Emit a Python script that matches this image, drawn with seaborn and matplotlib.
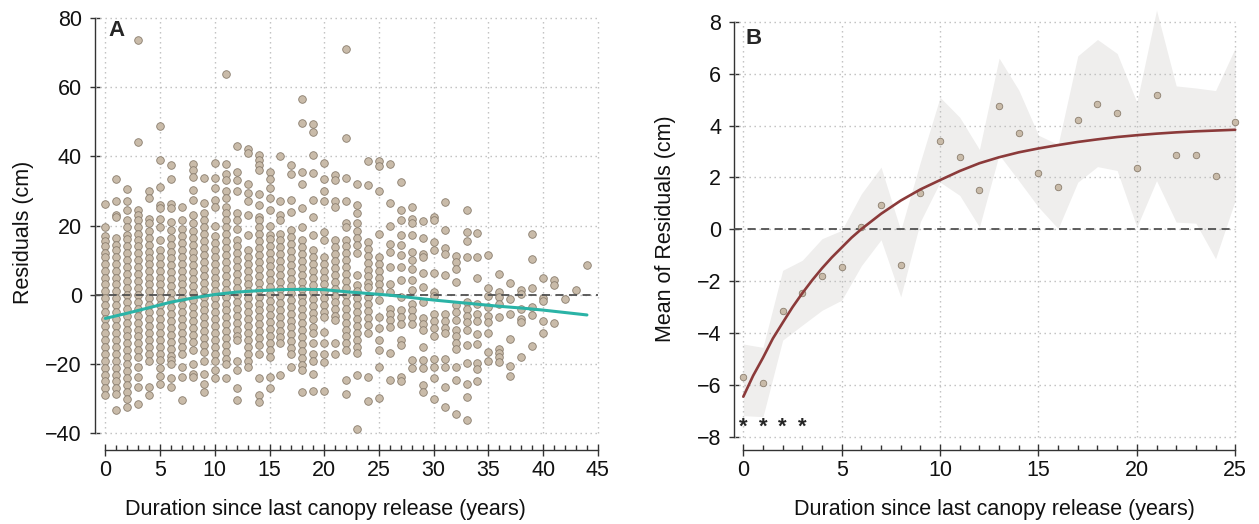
import matplotlib
matplotlib.use("Agg")
import matplotlib.pyplot as plt
import seaborn as sns
import numpy as np
import pandas as pd

# ---- Panel A: residuals (cm) by years since last canopy release ----
r00 = [26.3, 19.5, 17, 15.5, 14, 12, 11, 9, 7, 5, 3, 1, -1, -3, -5, -7, -9, -11, -13, -15, -17, -19, -21, -23, -25, -27, -29]
r01 = [33.3, 27, 23, 22.5, 16.3, 14.5, 12.9, 11, 9, 7, 5, 3, 1, -1, -3, -5, -7, -9, -11, -13, -15, -17, -19, -21, -23, -25, -27, -28.5, -33.3]
r02 = [30.5, 27, 24.6, 21.5, 19.6, 17.2, 16, 14, 12, 10, 8, 6, 4, 2, 0, -2, -4, -6, -8, -10, -12, -14, -16, -18, -20, -22, -24, -26, -28, -30, -32.5]
r03 = [73.5, 44.2, 24.4, 23, 21.5, 19.5, 17.5, 15.8, 14, 12, 10, 8, 6, 4, 2, 0, -2, -4, -6, -8, -10, -12, -14, -16, -18, -20.8, -23.7, -26.5, -31.5]
r04 = [30, 28, 22, 20.6, 18.5, 16.5, 14.5, 12.5, 10.5, 9, 7, 5, 3, 1, -1, -3, -5, -7, -9, -11, -13, -15, -17, -19, -26.5, -29]
r05 = [48.7, 38.8, 31.2, 26, 25, 22, 19.6, 15.8, 12.9, 11, 9, 7, 5, 3, 1, -1, -3, -5, -7, -9, -11, -13, -15, -17, -18.8, -21, -23.5, -25.6]
r06 = [37.4, 33.3, 26.3, 25.2, 21, 18.6, 16.5, 14.5, 12.5, 10.5, 8.5, 6.5, 4.5, 2.5, 0.5, -1.5, -3.5, -5.5, -7.5, -9.5, -11.5, -13.5, -15.5, -17.5, -18.8, -20, -24, -26.5]
r07 = [25.4, 21.5, 19, 17, 15, 13, 11, 9, 7, 5, 3, 1, -1, -3, -5, -7, -9, -11, -13, -15, -17, -20.8, -23.7, -30.4]
r08 = [37.9, 36, 34, 30.2, 27.3, 23, 20.6, 18.5, 16.5, 14.5, 12.5, 10.5, 8.5, 6.5, 4.5, 2.5, 0.5, -1.5, -3.5, -5.5, -7.5, -9.5, -11.5, -13.5, -16, -20, -22.7, -23.7]
r09 = [33.6, 26.5, 23.5, 21.5, 19.5, 17.5, 15.5, 13.5, 11.5, 9.5, 7.5, 5.5, 3.5, 1.5, -0.5, -2.5, -4.5, -6.5, -8.5, -10.5, -12.5, -14.5, -16.5, -19, -22.7, -25.6, -28]
r10 = [38, 33.6, 30.7, 27.5, 25.4, 19.8, 17, 15, 13, 11, 9, 7, 5, 3, 1, -1, -3, -5, -7, -9, -11, -13, -15, -17, -19, -21.7, -24]
r11 = [63.6, 37.9, 35, 33, 30, 28, 25.4, 23.5, 21.5, 19.5, 17.5, 15.5, 13.5, 11.5, 9.5, 7.5, 5.5, 3.5, 1.5, -0.5, -2.5, -4.5, -6.5, -8.5, -10.5, -12.5, -14.5, -16.5, -18.5, -20, -24]
r12 = [42.9, 35.5, 33, 30, 23.5, 21.5, 19, 15.8, 14, 12, 10, 8, 6, 4, 2, 0, -2, -4, -6, -8, -10, -12, -13, -19, -21.7, -27, -30.4]
r13 = [42.2, 40.8, 32, 29.5, 27, 23, 17.2, 12.9, 11, 9, 7, 5, 3, 1, -1, -3, -5, -7, -9, -11, -13, -15, -17, -19, -20.8]
r14 = [40.4, 38.8, 37.5, 36, 29, 26, 22.5, 21.5, 19.5, 17.5, 15.5, 13.5, 11.5, 9.5, 7.5, 5.5, 3.5, 1.5, -0.5, -2.5, -4.5, -6.5, -8.5, -10.5, -12.5, -14.5, -17, -24, -29, -31]
r15 = [35.5, 33.5, 30.7, 28, 24.4, 20, 17.2, 16.2, 14.2, 12.2, 10.2, 8.2, 6.2, 4.2, 2.2, 0.2, -1.8, -3.8, -5.8, -7.8, -9.8, -11.8, -13.8, -16, -18, -23.7, -27]
r16 = [40, 27, 23, 21.5, 17.7, 15.7, 13.7, 11.7, 9.7, 7.7, 5.7, 3.7, 1.7, -0.3, -2.3, -4.3, -6.3, -8.3, -10.3, -12.3, -14, -23]
r17 = [37.6, 35, 27.3, 24, 18.6, 16.6, 14.6, 12.6, 10.6, 8.6, 6.6, 4.6, 2.6, 0.6, -1.4, -3.4, -5.4, -7.4, -9.4, -11.4, -13.4, -15.4, -17, -20.8]
r18 = [56.4, 49.6, 35.5, 32, 25.2, 19.6, 15.8, 13.8, 11.8, 9.8, 7.8, 5.8, 3.8, 1.8, -0.2, -2.2, -4.2, -6.2, -8.2, -10.2, -12.2, -14.2, -16.2, -18.2, -20.2, -21.7, -28]
r19 = [49.3, 47.1, 40.4, 35.3, 27.3, 22.5, 17.2, 12.9, 10.9, 8.9, 6.9, 4.9, 2.9, 0.9, -1.1, -3.1, -5.1, -7.1, -9.2, -11, -14, -17, -19, -22.7, -27.7]
r20 = [38, 33.4, 30, 27, 18, 15.8, 11, 9, 7, 5, 3, 1, -1, -3, -5, -6.3, -10.7, -14, -17, -19.3, -27.7]
r21 = [34.5, 33, 27, 25.4, 15.8, 13.8, 11.8, 9.8, 7.8, 5.8, 3.8, 1.8, -0.2, -2.2, -4.2, -6.2, -7.3, -14, -17]
r22 = [71, 45.4, 33.6, 27, 20.6, 19.6, 15.8, 14, 12, 10, 8, 6, 4, 2, 0, -2, -4, -6, -8, -10, -12, -14, -16, -24.6, -28.5]
r23 = [32, 25.9, 23.5, 20.6, 18.5, 16.5, 14.5, 12, 5.7, 2.8, 1, -1, -3, -5, -7, -9, -11, -13, -15, -16.9, -23.2, -38.6]
r24 = [38.7, 31.7, 15.3, 13.3, 11.3, 9.3, 7.3, 5.3, 3.3, 2.3, -0.6, -2.6, -4.6, -6.6, -8.6, -11, -23.7, -30.6]
r25 = [38.5, 37.3, 30.1, 17.7, 11, 9, 7, 5, 3, 1, -1.5, -6.3, -9.7, -13, -16, -20.8, -29.9]
r26 = [37.8, 26.4, 19.8, 14.8, 12.4, 8, 3, 0.9, -4, -5.6, -7.3, -9.2, -16.9, -24.6]
r27 = [32.7, 24.6, 21.5, 17.2, 14.3, 11.4, 8, 4.2, -0.6, -4.4, -6.4, -8.3, -13, -14.5, -23.7, -25]
r28 = [25.3, 21.8, 20.6, 17.2, 12.4, 10, 7.6, 4.2, 1.3, -2.5, -4.5, -6.5, -8.3, -18.8, -21.2]
r29 = [21.2, 16.4, 11.9, 11, 6.2, 2.3, -2, -6.8, -8.5, -10.2, -15, -18.8, -21.2, -26, -28]
r30 = [22.6, 21.7, 15.3, 12.9, 6.2, 0.9, -0.3, -5.4, -7.5, -9.7, -12, -18.4, -20.8, -24, -30]
r31 = [26.7, 18.6, 13.4, 11.9, 5.7, -5.4, -7.5, -9.5, -11, -18.4, -20.8, -26.5, -32.3]
r32 = [11.3, 9.5, 7.6, 3.6, -3, -5, -7.3, -10.2, -12, -14, -15.5, -20.8, -24.6, -34.4]
r33 = [24.6, 18.2, 15.6, 11, -2, -4, -6, -7.8, -10.2, -14.5, -19.8, -25.6, -29.4, -36.2]
r34 = [17.9, 11, 4.9, -2.5, -5.4, -7.5, -11.3, -14.2, -19.6, -21.5, -24.8]
r35 = [11.6, 2.1, -0.2, -3.5, -6.2, -7.7, -10.9, -16.4, -19.1]
r36 = [6, 0.9, -0.5, -2.5, -6.5, -15.5, -16.7, -18, -19.5]
r37 = [3.5, -1.3, -5.4, -12.7, -20.6, -23.4]
r38 = [1.5, 0.2, -4.1, -7.1, -7.8, -17.9]
r39 = [17.7, 10.3, 2, -3.5, -5.9, -14.8]
r40 = [4.9, -1, -1.7, -7.5, -10.9]
r41 = [4.2, 2.8, -8]
r42 = [-1.2]
r43 = [1.3]
r44 = [8.7]
resid_cols = [r00, r01, r02, r03, r04, r05, r06, r07, r08, r09, r10, r11, r12, r13, r14,
              r15, r16, r17, r18, r19, r20, r21, r22, r23, r24, r25, r26, r27, r28, r29,
              r30, r31, r32, r33, r34, r35, r36, r37, r38, r39, r40, r41, r42, r43, r44]

# smoother drawn through panel A
smooth_a_years = [0, 2, 4, 6, 8, 10, 12, 14, 16, 18, 20, 22, 24, 26, 28, 30, 32, 34, 36, 38, 40, 42, 44]
smooth_a_vals = [-6.8, -5.3, -3.7, -2.1, -0.9, 0.1, 0.8, 1.2, 1.5, 1.6, 1.5, 0.9, 0.4, -0.1, -0.8,
                 -1.5, -2.1, -2.7, -3.3, -3.8, -4.4, -5.1, -5.8]

# ---- Panel B: yearly mean residuals with interval band ----
years_b = list(range(26))
mean_b = [-5.69, -5.94, -3.13, -2.46, -1.79, -1.45, 0.08, 0.93, -1.37, 1.41, 3.42, 2.8, 1.51,
          4.74, 3.7, 2.17, 1.62, 4.22, 4.85, 4.5, 2.37, 5.18, 2.86, 2.85, 2.04, 4.12]
upper_b = [-4.42, -4.55, -1.58, -1.19, -0.36, -0.04, 1.37, 2.4, -0.04, 2.6, 5.09, 4.32, 3.08,
           6.6, 5.37, 3.63, 3.27, 6.69, 7.32, 6.78, 4.9, 8.45, 5.53, 5.45, 5.35, 6.99]
lower_b = [-7.18, -7.22, -4.27, -3.69, -3.12, -2.73, -1.4, -0.4, -2.6, 0.3, 1.82, 1.31, 0.09,
           2.88, 1.88, 0.86, 0.03, 1.82, 2.42, 2.27, 0.09, 1.88, 0.28, 0.24, -1.13, 1.12]
fit_b_years = [0, 0.5, 1, 1.5, 2, 2.5, 3, 3.5, 4, 4.5, 5, 5.5, 6, 7, 8, 9, 10, 11, 12, 13, 14,
               15, 16, 17, 18, 19, 20, 21, 22, 23, 24, 25]
fit_b_vals = [-6.45, -5.64, -4.95, -4.21, -3.6, -3.0, -2.46, -1.96, -1.5, -1.08, -0.7, -0.32,
              0.01, 0.6, 1.11, 1.54, 1.9, 2.25, 2.55, 2.78, 2.97, 3.12, 3.25, 3.37, 3.47, 3.56,
              3.63, 3.69, 3.74, 3.78, 3.81, 3.84]
star_years = [0, 1, 2, 3]

XLABEL = "Duration since last canopy release (years)"
AXIS_COL = "#333333"
GRID_COL = "#bdbdbd"
PT_FACE = "#c9bba9"
PT_EDGE = "#8a7d6e"


def set_style():
    sns.set_theme(style="ticks")
    plt.rcParams.update({
        'font.family': ['Liberation Sans', 'DejaVu Sans'],
        'axes.unicode_minus': True,
        'axes.labelsize': 15.5,
        'axes.labelcolor': '#111111',
        'xtick.labelsize': 15.5,
        'ytick.labelsize': 15.5,
        'xtick.color': AXIS_COL,
        'ytick.color': AXIS_COL,
        'xtick.labelcolor': '#111111',
        'ytick.labelcolor': '#111111',
        'xtick.bottom': True,
        'ytick.left': True,
    })


def style_axes(ax, xmajor, xminor, ymajor):
    """R-like detached axes with dotted grid at the major ticks."""
    ax.set_xticks(xmajor)
    ax.set_xticks(xminor, minor=True)
    ax.set_yticks(ymajor)
    ax.tick_params(axis='x', which='major', direction='inout', length=8.5, width=1, pad=3)
    ax.tick_params(axis='x', which='minor', direction='in', length=3.5, width=1)
    ax.tick_params(axis='y', which='major', direction='inout', length=7, width=1, pad=6)
    ax.tick_params(axis='y', which='minor', length=0)
    for side in ['top', 'right']:
        ax.spines[side].set_visible(False)
    for side in ['left', 'bottom']:
        ax.spines[side].set_color(AXIS_COL)
        ax.spines[side].set_linewidth(1)
    ax.spines['left'].set_bounds(ymajor[0], ymajor[-1])
    ax.spines['bottom'].set_bounds(xmajor[0], xmajor[-1])
    x0 = ax.get_xlim()[0]
    ax.hlines(ymajor, x0, xmajor[-1], colors=GRID_COL, linewidth=1,
              linestyles=(0, (1, 2.6)), zorder=1)
    ax.vlines(xmajor, ymajor[0], ymajor[-1], colors=GRID_COL, linewidth=1,
              linestyles=(0, (1, 2.6)), zorder=1)
    ax.hlines(0, x0, xmajor[-1], colors='#505050', linewidth=1.3,
              linestyles=(0, (4.5, 3)), zorder=3)


set_style()
fig = plt.figure(figsize=(12.59, 5.24), dpi=100)
ax_a = fig.add_axes([0.0755, 0.141, 0.402, 0.832])
ax_b = fig.add_axes([0.5832, 0.141, 0.4026, 0.847])

# ---- Panel A ----
df_a = pd.DataFrame({
    'year': np.concatenate([[k] * len(c) for k, c in enumerate(resid_cols)]),
    'resid': np.concatenate(resid_cols),
})
ax_a.set_xlim(-0.94, 45.3)
ax_a.set_ylim(-44.8, 81)
style_axes(ax_a, list(range(0, 46, 5)), list(range(0, 46)), list(range(-40, 81, 20)))
sns.scatterplot(data=df_a, x='year', y='resid', ax=ax_a, s=30, color=PT_FACE,
                edgecolor=PT_EDGE, linewidth=0.6, zorder=2, legend=False)
sns.lineplot(x=smooth_a_years, y=smooth_a_vals, ax=ax_a, color='#2ab3a6', linewidth=2.2,
             sort=False, estimator=None, zorder=4)
ax_a.set_xlabel(XLABEL)
ax_a.xaxis.set_label_coords(0.455, -0.112)
ax_a.set_ylabel("Residuals (cm)", labelpad=8)
ax_a.text(0.043, 0.963, "A", transform=ax_a.transAxes, fontsize=16, fontweight='bold',
          ha='center', va='center')

# ---- Panel B ----
ax_b.set_xlim(-0.46, 25.3)
ax_b.set_ylim(-8.51, 8.6)
ax_b.fill_between(years_b, lower_b, upper_b, color='#efeeed', linewidth=0, zorder=0.5)
style_axes(ax_b, list(range(0, 26, 5)), list(range(0, 26)), list(range(-8, 9, 2)))
sns.scatterplot(x=years_b, y=mean_b, ax=ax_b, s=22, color=PT_FACE, edgecolor=PT_EDGE,
                linewidth=0.6, zorder=4, legend=False)
sns.lineplot(x=fit_b_years, y=fit_b_vals, ax=ax_b, color='#8b3a3a', linewidth=1.9,
             sort=False, estimator=None, zorder=5)
for yr in star_years:
    ax_b.text(yr, -7.62, "*", fontsize=16, fontweight='bold', ha='center', va='center')
ax_b.set_xlabel(XLABEL)
ax_b.xaxis.set_label_coords(0.514, -0.11)
ax_b.set_ylabel("Mean of Residuals (cm)", labelpad=15)
ax_b.text(0.039, 0.928, "B", transform=ax_b.transAxes, fontsize=16, fontweight='bold',
          ha='center', va='center')

fig.savefig("out.png", dpi=100)
plt.close(fig)
